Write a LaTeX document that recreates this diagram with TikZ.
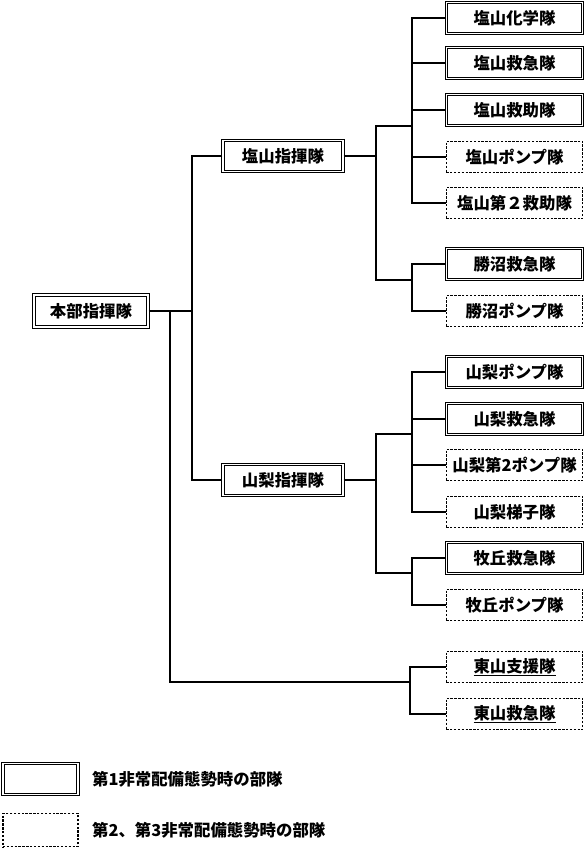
\documentclass[tikz,border=0pt]{standalone}
\usepackage{fontspec}
\setmainfont{Noto Sans CJK JP}
\usepackage{tikz}
\usetikzlibrary{calc}

\begin{document}
\begin{tikzpicture}[x=0.03cm, y=-0.03cm,
    first/.style={draw, line width=0.9pt, double, double distance=1pt,
      minimum height=0.93cm, inner sep=0pt},
    second/.style={draw, line width=0.9pt, dash pattern=on 2pt off 1.3pt,
      minimum height=0.93cm, inner sep=0pt},
    unit/.style={minimum width=4.1cm},
    cmd/.style={minimum width=3.6cm},
    link/.style={line width=0.9pt},
    font=\fontsize{14}{16}\selectfont\bfseries]
    \useasboundingbox (0,0) rectangle (586,852);

    % Command posts
    \node[first, minimum width=3.42cm, minimum height=0.96cm] (hq) at (91,311) {本部指揮隊};
    \node[first, cmd] (enzan) at (283,156) {塩山指揮隊};
    \node[first, cmd] (yama) at (283,480) {山梨指揮隊};

    % Units
    \node[first, unit] (e1) at (514.5,18) {塩山化学隊};
    \node[first, unit] (e2) at (514.5,63) {塩山救急隊};
    \node[first, unit] (e3) at (514.5,110) {塩山救助隊};
    \node[second, unit] (e4) at (514.5,157) {塩山ポンプ隊};
    \node[second, unit] (e5) at (514.5,203) {塩山第２救助隊};
    \node[first, unit] (k1) at (514.5,264) {勝沼救急隊};
    \node[second, unit] (k2) at (514.5,311) {勝沼ポンプ隊};
    \node[first, unit] (y1) at (514.5,372) {山梨ポンプ隊};
    \node[first, unit] (y2) at (514.5,419) {山梨救急隊};
    \node[second, unit] (y3) at (514.5,465) {山梨第2ポンプ隊};
    \node[second, unit] (y4) at (514.5,512) {山梨梯子隊};
    \node[first, unit] (m1) at (514.5,558) {牧丘救急隊};
    \node[second, unit] (m2) at (514.5,605) {牧丘ポンプ隊};
    \node[second, unit] (h1) at (514.5,667) {\underline{東山支援隊}};
    \node[second, unit] (h2) at (514.5,714) {\underline{東山救急隊}};

    % Junctions
    \coordinate (bj) at (192,311);
    \coordinate (hj) at (170,311);
    \coordinate (hs) at (410,682);
    \coordinate (ecA) at (376,126);
    \coordinate (ecB) at (376,280);
    \coordinate (ek) at (412,126);
    \coordinate (kj) at (412,280);
    \coordinate (ycA) at (376,434);
    \coordinate (ycB) at (376,573);
    \coordinate (yk) at (412,434);
    \coordinate (mj) at (412,573);

    % Trunk
    \draw[link] (hq.east) -- (bj);
    \draw[link] (enzan.west) -| (bj) |- (yama.west);
    \draw[link] (hj) |- (hs);
    \draw[link] (h1.west) -| (hs) |- (h2.west);

    % Enzan
    \draw[link] (enzan.east) -- (enzan.east -| ecA);
    \draw[link] (ek) -- (ecA) -- (ecB) -- (kj);
    \draw[link] (e1.west) -| (ek) |- (e5.west);
    \foreach \n in {e2,e3,e4}
        \draw[link] (\n.west) -- (\n.west -| ek);
    \draw[link] (k1.west) -| (kj) |- (k2.west);

    % Yamanashi
    \draw[link] (yama.east) -- (yama.east -| ycA);
    \draw[link] (yk) -- (ycA) -- (ycB) -- (mj);
    \draw[link] (y1.west) -| (yk) |- (y4.west);
    \foreach \n in {y2,y3}
        \draw[link] (\n.west) -- (\n.west -| yk);
    \draw[link] (m1.west) -| (mj) |- (m2.west);

    % Legend
    \node[first, minimum width=2.25cm, minimum height=0.95cm] (lg1) at (40.5,779) {};
    \node[second, minimum width=2.25cm, minimum height=1cm] (lg2) at (40.5,830) {};
    \node[anchor=west] (lgt1) at (88,779) {第1非常配備態勢時の部隊};
    \node[anchor=west] (lgt2) at (88,830) {第2、第3非常配備態勢時の部隊};
\end{tikzpicture}
\end{document}
